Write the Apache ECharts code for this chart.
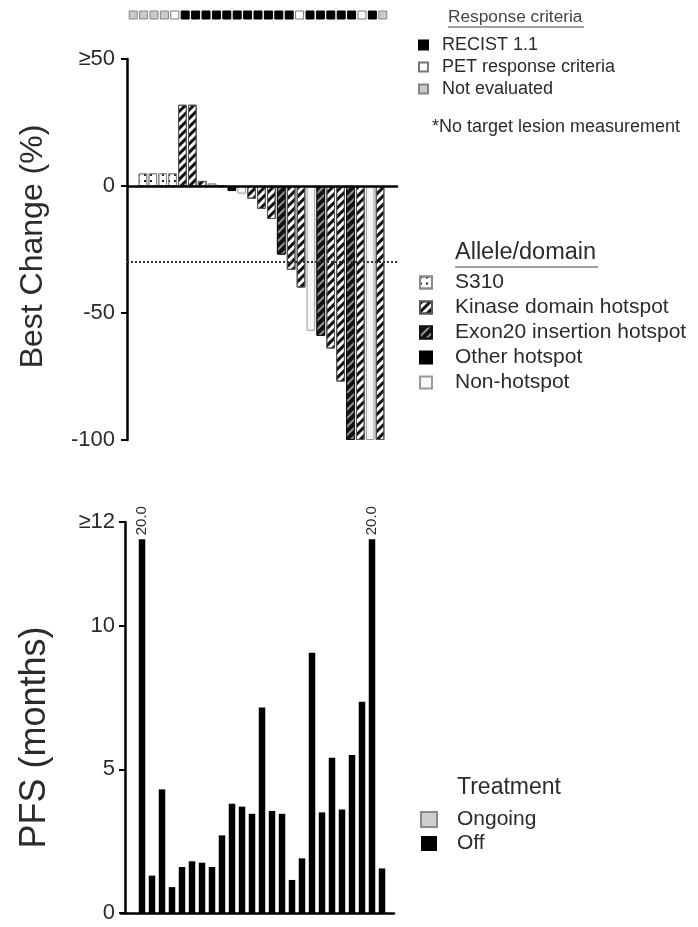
<!DOCTYPE html>
<html>
<head>
<meta charset="utf-8">
<script src="https://cdn.jsdelivr.net/npm/echarts@6/dist/echarts.min.js"></script>
<style>
html, body { margin: 0; padding: 0; background: #fff; }
#chart { width: 698px; height: 927px; }
</style>
</head>
<body>
<div id="chart"></div>
<script>
// patients, in waterfall order
var patients = ['P1', 'P2', 'P3', 'P4', 'P5', 'P6', 'P7', 'P8', 'P9', 'P10', 'P11', 'P12', 'P13',
    'P14', 'P15', 'P16', 'P17', 'P18', 'P19', 'P20', 'P21', 'P22', 'P23', 'P24', 'P25'];

// top strip: NE = not evaluated, PET = PET response criteria, RECIST = RECIST 1.1
var responseCriteria = ['NE', 'NE', 'NE', 'NE', 'PET', 'RECIST', 'RECIST', 'RECIST', 'RECIST', 'RECIST',
    'RECIST', 'RECIST', 'RECIST', 'RECIST', 'RECIST', 'RECIST', 'PET', 'RECIST', 'RECIST', 'RECIST',
    'RECIST', 'RECIST', 'PET', 'RECIST', 'NE'];

// best change (%)
var bestChange = [5, 5, 5, 5, 32, 32, 2, 1, 0, -2, -3, -5, -9, -13, -27, -33, -40, -57, -59, -64,
    -77, -100, -100, -100, -100];
var alleleDomain = ['S310', 'S310', 'S310', 'S310', 'Kinase', 'Kinase', 'Kinase', 'S310', 'Kinase', 'Other',
    'Non', 'Kinase', 'Kinase', 'Kinase', 'Exon20', 'Kinase', 'Kinase', 'Non', 'Exon20', 'Kinase',
    'Kinase', 'Exon20', 'Kinase', 'Non', 'Kinase'];
var responseThreshold = -30;

// PFS (months)
var pfsMonths = [20.0, 1.3, 4.3, 0.9, 1.6, 1.8, 1.75, 1.6, 2.7, 3.8, 3.7, 3.45, 7.15, 3.55, 3.45,
    1.15, 1.9, 9.05, 3.5, 5.4, 3.6, 5.5, 7.35, 20.0, 1.55];
var treatment = ['Off', 'Off', 'Off', 'Off', 'Off', 'Off', 'Off', 'Off', 'Off', 'Off', 'Off', 'Off', 'Off',
    'Off', 'Off', 'Off', 'Off', 'Off', 'Off', 'Off', 'Off', 'Off', 'Off', 'Off', 'Off'];
var pfsCap = 13;        // bars above this are cut at the axis break
var pfsAxisTop = 13.6;  // shown as ">=12"

var FONT = "'Liberation Sans', Arial, sans-serif";
var TXT = '#2b2b2b';

var criteriaNames = { RECIST: 'RECIST 1.1', PET: 'PET response criteria', NE: 'Not evaluated' };
var criteriaStyle = {
    RECIST: { color: '#000', borderColor: '#000', borderWidth: 1, opacity: 1 },
    PET: { color: '#fff', borderColor: '#777', borderWidth: 1, opacity: 1 },
    NE: { color: '#cacaca', borderColor: '#858585', borderWidth: 1, opacity: 1 }
};

var alleleNames = {
    S310: 'S310', Kinase: 'Kinase domain hotspot', Exon20: 'Exon20 insertion hotspot',
    Other: 'Other hotspot', Non: 'Non-hotspot'
};
var alleleStyle = {
    S310: { color: '#fff', borderColor: '#8a8a8a', borderWidth: 1, opacity: 1,
        decal: { symbol: 'rect', symbolSize: 1, dashArrayX: [1.5, 4], dashArrayY: [1.5, 4], color: '#222' } },
    Kinase: { color: '#fff', borderColor: '#555', borderWidth: 1, opacity: 1,
        decal: { symbol: 'rect', symbolSize: 1, dashArrayX: [1, 0], dashArrayY: [3, 3],
            rotation: -Math.PI / 4, color: '#111' } },
    Exon20: { color: '#111', borderColor: '#111', borderWidth: 1, opacity: 1,
        decal: { symbol: 'rect', symbolSize: 1, dashArrayX: [1, 0], dashArrayY: [1.5, 4],
            rotation: -Math.PI / 4, color: 'rgba(255,255,255,0.55)' } },
    Other: { color: '#000', borderColor: '#000', borderWidth: 1, opacity: 1 },
    Non: { color: '#f7f7f7', borderColor: '#999', borderWidth: 1, opacity: 1 }
};

var treatmentStyle = {
    Ongoing: { color: '#cfcfcf', borderColor: '#8a8a8a', borderWidth: 1, opacity: 1 },
    Off: { color: '#000', borderColor: '#000', borderWidth: 0, opacity: 1 }
};

var stripData = responseCriteria.map(function (c, i) {
    return { value: [patients[i], 'criteria'], itemStyle: criteriaStyle[c] };
});

var changeData = bestChange.map(function (v, i) {
    return { value: v, itemStyle: alleleStyle[alleleDomain[i]] };
});

var pfsData = pfsMonths.map(function (v, i) {
    var item = { value: Math.min(v, pfsCap), itemStyle: treatmentStyle[treatment[i]] };
    if (v > pfsCap) {
        item.label = { show: true, formatter: v.toFixed(1) };
    }
    return item;
});

// empty series only to feed the legends
function legendSeries(name, style) {
    return { type: 'scatter', name: name, data: [], xAxisIndex: 2, yAxisIndex: 2, itemStyle: style };
}

var series = [
    {
        type: 'scatter', xAxisIndex: 0, yAxisIndex: 0, data: stripData,
        symbol: 'rect', symbolSize: 8, silent: true
    },
    {
        type: 'bar', xAxisIndex: 1, yAxisIndex: 1, data: changeData,
        barCategoryGap: '12%'
    },
    {
        type: 'line', xAxisIndex: 2, yAxisIndex: 2, data: [],
        markLine: {
            silent: true, symbol: 'none', label: { show: false },
            lineStyle: { type: 'dotted', color: '#333', width: 2 },
            data: [{ yAxis: responseThreshold }]
        }
    },
    {
        type: 'bar', xAxisIndex: 3, yAxisIndex: 3, data: pfsData, barWidth: 6.5,
        label: {
            show: false, position: 'top', rotate: 90, align: 'left', verticalAlign: 'middle',
            distance: 4, fontSize: 15, color: TXT, fontFamily: FONT
        }
    }
];
Object.keys(criteriaNames).forEach(function (k) {
    series.push(legendSeries(criteriaNames[k], criteriaStyle[k]));
});
Object.keys(alleleNames).forEach(function (k) {
    series.push(legendSeries(alleleNames[k], alleleStyle[k]));
});
Object.keys(treatmentStyle).forEach(function (k) {
    series.push(legendSeries(k, treatmentStyle[k]));
});

var chart = echarts.init(document.getElementById('chart'));

chart.setOption({
    animation: false,
    textStyle: { fontFamily: FONT },
    grid: [
        { left: 128, top: 11, width: 260, height: 8 },
        { left: 138, top: 59, width: 247, height: 381 },
        { left: 127, top: 59, width: 270, height: 381 },
        { left: 137, top: 522, width: 250, height: 391 },
        { left: 121, top: 522, width: 273, height: 391 }
    ],
    xAxis: [
        { type: 'category', gridIndex: 0, data: patients, show: false },
        { type: 'category', gridIndex: 1, data: patients, show: false },
        {
            type: 'value', gridIndex: 2, min: 0, max: 1, z: 5,
            axisLine: { onZero: true, lineStyle: { color: '#000', width: 2.5 } },
            axisTick: { show: false }, axisLabel: { show: false }, splitLine: { show: false }
        },
        { type: 'category', gridIndex: 3, data: patients, show: false },
        {
            type: 'value', gridIndex: 4, min: 0, max: 1, z: 5,
            axisLine: { lineStyle: { color: '#000', width: 2.5 } },
            axisTick: { show: false }, axisLabel: { show: false }, splitLine: { show: false }
        }
    ],
    yAxis: [
        { type: 'category', gridIndex: 0, data: ['criteria'], show: false },
        {
            type: 'value', gridIndex: 1, min: -100, max: 50, interval: 50, offset: 11,
            name: 'Best Change (%)', nameLocation: 'middle', nameGap: 78,
            nameTextStyle: { fontSize: 32, color: TXT, padding: [0, 0, 0, 6] },
            axisLine: { show: true, lineStyle: { color: '#000', width: 2.5 } },
            axisTick: { show: true, length: 6, lineStyle: { color: '#000', width: 2 } },
            axisLabel: {
                fontSize: 22, color: TXT, margin: 12,
                formatter: function (v) { return v === 50 ? '\u226550' : String(v); }
            },
            splitLine: { show: false }
        },
        { type: 'value', gridIndex: 2, min: -100, max: 50, show: false },
        {
            type: 'value', gridIndex: 3, min: 0, max: pfsAxisTop, interval: 5, offset: 12,
            name: 'PFS (months)', nameLocation: 'middle', nameGap: 72,
            nameTextStyle: { fontSize: 36, color: TXT, padding: [0, 40, 0, 0] },
            axisLine: { show: true, lineStyle: { color: '#000', width: 2.5 } },
            axisTick: { show: true, length: 6, lineStyle: { color: '#000', width: 2 } },
            axisLabel: {
                fontSize: 22, color: TXT, margin: 10,
                formatter: function (v) { return v === pfsAxisTop ? '\u226512' : String(v); }
            },
            splitLine: { show: false }
        },
        { type: 'value', gridIndex: 4, min: 0, max: 1, show: false }
    ],
    legend: [
        {
            orient: 'vertical', left: 413, top: 31, icon: 'rect', selectedMode: false,
            itemWidth: 9, itemHeight: 9, itemGap: 4,
            textStyle: { fontSize: 18, color: TXT, padding: [0, 0, 0, 9] },
            data: Object.keys(criteriaNames).map(function (k) { return criteriaNames[k]; })
        },
        {
            orient: 'vertical', left: 414, top: 267, icon: 'rect', selectedMode: false,
            itemWidth: 12, itemHeight: 12, itemGap: 4,
            textStyle: { fontSize: 21, color: TXT, padding: [0, 0, 0, 18] },
            data: Object.keys(alleleNames).map(function (k) { return alleleNames[k]; })
        },
        {
            orient: 'vertical', left: 415, top: 804, icon: 'rect', selectedMode: false,
            itemWidth: 16, itemHeight: 15, itemGap: 3,
            textStyle: { fontSize: 21, color: TXT, padding: [0, 0, 0, 15] },
            data: Object.keys(treatmentStyle)
        }
    ],
    graphic: [
        { type: 'text', left: 448, top: 9, style: { text: 'Response criteria', fontSize: 17.3, fill: '#444', fontFamily: FONT } },
        { type: 'line', shape: { x1: 448, y1: 27, x2: 584, y2: 27 }, style: { stroke: '#444', lineWidth: 1 } },
        { type: 'text', left: 432, top: 118, style: { text: '*No target lesion measurement', fontSize: 18, fill: TXT, fontFamily: FONT } },
        { type: 'text', left: 455, top: 241, style: { text: 'Allele/domain', fontSize: 23.5, fill: TXT, fontFamily: FONT } },
        { type: 'line', shape: { x1: 455, y1: 267, x2: 598, y2: 267 }, style: { stroke: '#444', lineWidth: 1.2 } },
        { type: 'text', left: 457, top: 776, style: { text: 'Treatment', fontSize: 23, fill: TXT, fontFamily: FONT } }
    ],
    series: series
});
</script>
</body>
</html>
